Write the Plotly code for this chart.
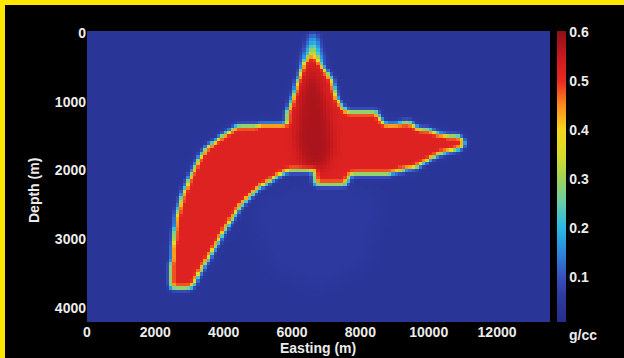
import numpy as np
import plotly.graph_objects as go

# ---- model grid (cell centres, metres) ----
easting = np.arange(50, 13600, 100)
depth = np.arange(0, 4201, 50)

# ---- density contrast values (g/cc) ----
background_density = 0.04
body_density = 0.52
core_density = 0.575
cap_outer_density = 0.2
cap_inner_density = 0.36
deep_halo_density = 0.058

# outline of the dense body (easting, depth), clockwise from the spike tip
body_easting = [6580, 6750, 7160, 7310, 7490, 7600, 8480, 8650, 9150, 9200, 9500, 9600,
                10030, 10320, 10850, 11000, 11050, 10850, 10320, 9940, 9650, 8860, 7690,
                7600, 6670, 6670, 5935, 5555, 5060, 4560, 4090, 3510, 3070, 2430, 2490,
                2630, 2810, 3010, 3300, 3510, 3800, 4090, 4390, 5850, 5850, 5994, 6170, 6374]
body_depth = [300, 390, 680, 970, 1080, 1150, 1150, 1310, 1330, 1290, 1290, 1380,
              1410, 1480, 1500, 1560, 1620, 1690, 1750, 1860, 1950, 2040, 2060,
              2200, 2200, 2000, 1990, 2090, 2240, 2470, 2820, 3300, 3690, 3690, 3200,
              2620, 2330, 2090, 1800, 1660, 1555, 1450, 1350, 1320, 1163, 974, 683, 392]

# outline of the densest core inside the spike
core_easting = [6580, 6850, 7100, 7200, 6950, 6350, 6100, 6200, 6400]
core_depth = [450, 750, 1200, 1700, 2000, 1950, 1600, 1000, 650]

# transition zones capping the spike tip
cap_outer_easting = [6520, 6720, 6950, 6250]
cap_outer_depth = [30, 30, 450, 450]
cap_inner_easting = [6540, 6700, 6820, 6380]
cap_inner_depth = [140, 140, 420, 420]

# faint lighter zone beneath the body
deep_halo_easting = [4800, 6000, 7500, 8600, 8200, 6800, 5400]
deep_halo_depth = [2500, 2200, 2200, 2400, 3300, 3700, 3400]

# colour bar ticks
cbar_ticks = [0.1, 0.2, 0.3, 0.4, 0.5, 0.6]
x_ticks = [0, 2000, 4000, 6000, 8000, 10000, 12000]
y_ticks = [0, 1000, 2000, 3000, 4000]


def polygon_fraction(xc, yc, dx, dy, px, py, sub=2):
    """Fraction of each cell covered by the polygon (supersampled)."""
    poly_x = np.asarray(px, float)
    poly_y = np.asarray(py, float)
    offs = (np.arange(sub) + 0.5) / sub - 0.5
    fx = (xc[None, :, None, None] + offs[None, None, None, :] * dx)
    fy = (yc[:, None, None, None] + offs[None, None, :, None] * dy)
    fx, fy = np.broadcast_arrays(fx, fy)
    inside = np.zeros(fx.shape, dtype=bool)
    j = len(poly_x) - 1
    for i in range(len(poly_x)):
        xi, yi, xj, yj = poly_x[i], poly_y[i], poly_x[j], poly_y[j]
        cross = (yi > fy) != (yj > fy)
        xint = (xj - xi) * (fy - yi) / (yj - yi + 1e-12) + xi
        inside ^= cross & (fx < xint)
        j = i
    return inside.mean(axis=(2, 3))


def smooth(a, passes=1, k=(1.0, 2.0, 1.0)):
    k = np.asarray(k) / np.sum(k)
    for _ in range(passes):
        p = np.pad(a, 1, mode="edge")
        a = k[0] * p[:-2, 1:-1] + k[1] * p[1:-1, 1:-1] + k[2] * p[2:, 1:-1]
        p = np.pad(a, 1, mode="edge")
        a = k[0] * p[1:-1, :-2] + k[1] * p[1:-1, 1:-1] + k[2] * p[1:-1, 2:]
    return a


def layer(px, py, value, blur=0):
    f = polygon_fraction(easting, depth, 100, 50, px, py)
    if blur:
        f = smooth(f, blur)
    return background_density + f * (value - background_density), f


body_layer, body = layer(body_easting, body_depth, body_density)
core_layer, core = layer(core_easting, core_depth, core_density, blur=4)
cap_o, _ = layer(cap_outer_easting, cap_outer_depth, cap_outer_density, blur=1)
cap_i, _ = layer(cap_inner_easting, cap_inner_depth, cap_inner_density, blur=1)
halo, _ = layer(deep_halo_easting, deep_halo_depth, deep_halo_density, blur=14)

density = body_layer + core * body * (core_density - body_density)
density = np.maximum.reduce([density, cap_o, cap_i])
density = smooth(density, 1, k=(1.0, 4.0, 1.0))
glow = smooth(body, 6)
density = density + 0.035 * glow * (1 - body)
density = np.maximum(density, halo)

zmin, zmax = 0.008, 0.602
stops = [
    (0.008, "rgb(38,45,140)"),
    (0.06, "rgb(45,58,160)"),
    (0.10, "rgb(55,80,190)"),
    (0.15, "rgb(45,135,220)"),
    (0.20, "rgb(40,185,230)"),
    (0.25, "rgb(100,205,170)"),
    (0.30, "rgb(160,210,90)"),
    (0.35, "rgb(215,220,40)"),
    (0.40, "rgb(245,215,25)"),
    (0.45, "rgb(250,140,30)"),
    (0.50, "rgb(235,40,35)"),
    (0.55, "rgb(200,25,30)"),
    (0.602, "rgb(140,15,25)"),
]
colorscale = [[(v - zmin) / (zmax - zmin), c] for v, c in stops]

W, H = 624, 358
L, R, T, B = 87, 550, 31, 322
pw, ph = R - L, B - T


def px_to_paper_x(px):
    return (px - L) / pw


def py_to_paper_y(py):
    return (B - py) / ph


font_main = dict(family="Liberation Sans, Arial, sans-serif", size=14, color="#ececec")

fig = go.Figure(go.Heatmap(
    x=easting, y=depth, z=density,
    zmin=zmin, zmax=zmax, colorscale=colorscale,
    zsmooth=False,
    colorbar=dict(
        x=px_to_paper_x(557), xanchor="left", xpad=0,
        y=0.5, yanchor="middle", len=1, lenmode="fraction", ypad=0,
        thickness=9, outlinewidth=0,
        tickvals=cbar_ticks, ticktext=[f"<b>{t:.1f}</b>" for t in cbar_ticks],
        ticks="", ticklen=0, tickfont=font_main,
    ),
))

fig.update_xaxes(
    range=[0, 13550], tickvals=x_ticks, ticktext=[f"<b>{t}</b>" for t in x_ticks],
    showgrid=False, zeroline=False, showline=False, ticks="", tickfont=font_main,
)
fig.update_yaxes(
    range=[4200, -25], tickvals=y_ticks, ticktext=[f"<b>{t}</b>" for t in y_ticks],
    showgrid=False, zeroline=False, showline=False, ticks="", tickfont=font_main,
)

annotations = [
    dict(text="<b>Easting (m)</b>", xref="paper", yref="paper",
         x=px_to_paper_x(318), y=py_to_paper_y(348), xanchor="center", yanchor="middle",
         showarrow=False, font=font_main),
    dict(text="<b>Depth (m)</b>", xref="paper", yref="paper", textangle=-90,
         x=px_to_paper_x(34), y=py_to_paper_y(191), xanchor="center", yanchor="middle",
         showarrow=False, font=font_main),
    dict(text="<b>g/cc</b>", xref="paper", yref="paper",
         x=px_to_paper_x(567), y=py_to_paper_y(335), xanchor="left", yanchor="middle",
         showarrow=False, font=font_main),
]

border = "#ffe600"
shapes = [
    dict(type="rect", xref="paper", yref="paper", line_width=0, fillcolor=border,
         x0=px_to_paper_x(0), x1=px_to_paper_x(W), y0=py_to_paper_y(5), y1=py_to_paper_y(0)),
    dict(type="rect", xref="paper", yref="paper", line_width=0, fillcolor=border,
         x0=px_to_paper_x(0), x1=px_to_paper_x(5), y0=py_to_paper_y(H), y1=py_to_paper_y(0)),
]

fig.update_layout(
    width=W, height=H,
    margin=dict(l=L, r=W - R, t=T, b=H - B, pad=0),
    paper_bgcolor="black", plot_bgcolor="black",
    annotations=annotations, shapes=shapes,
    showlegend=False,
)

fig.write_html("out.html")
